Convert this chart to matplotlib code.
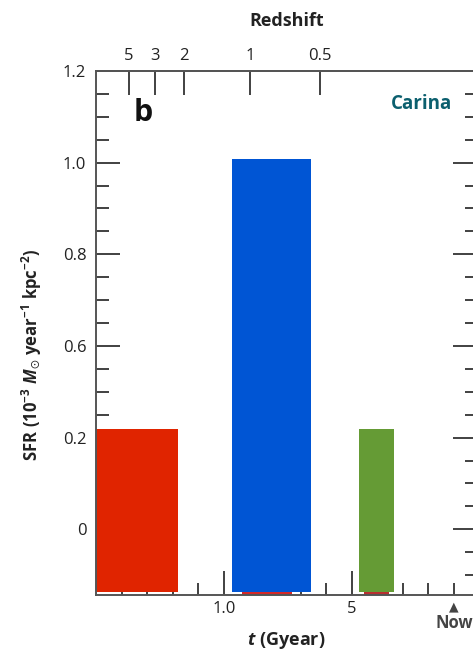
import numpy as np
import matplotlib
matplotlib.use("Agg")
import matplotlib.pyplot as plt

plt.rcParams["font.family"] = ["Open Sans", "DejaVu Sans"]
plt.rcParams["mathtext.fontset"] = "custom"
plt.rcParams["mathtext.rm"] = "Open Sans"
plt.rcParams["mathtext.bf"] = "Open Sans:bold"
plt.rcParams["mathtext.it"] = "Open Sans:italic"
plt.rcParams["mathtext.bfit"] = "Open Sans:bold:italic"
plt.rcParams["mathtext.fallback"] = "stixsans"

# --- star-formation episodes (cosmic time in Gyr, SFR in 1e-3 Msun/yr/kpc^2) ---
episode_start = [0.0, 5.3, 10.3]
episode_end = [3.2, 8.4, 11.65]
episode_sfr = [0.239, 1.009, 0.239]
episode_colors = ["#E02400", "#0055D4", "#659B35"]

# faint traces of the old population under the later episodes
trace_start = [5.7, 10.47]
trace_end = [7.65, 11.45]
trace_colors = ["#D42828", "#B83030"]

sfr_floor = -0.1435
bar_base = -0.138

# y tick labels as printed on the axis
ytick_values = [0.0, 0.2, 0.6, 0.8, 1.0, 1.2]
ytick_labels = ["0", "0.2", "0.6", "0.8", "1.0", "1.2"]

# time axis
t_max = 14.9
t_minor = [1, 2, 3, 4, 6, 7, 8, 9, 11, 12, 13, 14]
t_major = [5, 10]
t_major_labels = ["1.0", "5"]
t_now = 14.0

# redshift axis: cosmic age (Gyr) for each redshift
redshift_labels = ["5", "3", "2", "1", "0.5"]
redshift_age = [1.29, 2.31, 3.45, 6.04, 8.75]


# piecewise SFR scale: each printed tick interval gets equal height
def sfr_fwd(y):
    y = np.asarray(y, dtype=float)
    return np.where(y < 0.2, y / 0.2,
                    np.where(y < 0.6, 1 + (y - 0.2) / 0.4, 2 + (y - 0.6) / 0.2))


def sfr_inv(u):
    u = np.asarray(u, dtype=float)
    return np.where(u < 1, 0.2 * u,
                    np.where(u < 2, 0.2 + 0.4 * (u - 1), 0.6 + 0.2 * (u - 2)))


fig = plt.figure(figsize=(4.73, 6.53), dpi=100)
ax = fig.add_axes([96 / 473, 58 / 653, (477 - 96) / 473, (595 - 71) / 653])
ax.set_yscale("function", functions=(sfr_fwd, sfr_inv))
ax.set_ylim(sfr_floor, 1.2)
ax.set_xlim(0, t_max)
ax.set_axisbelow(True)

spine_col = "#555555"
for s in ax.spines.values():
    s.set_color(spine_col)
    s.set_linewidth(1.4)
    s.set_zorder(2.6)

# bars
for x0, x1, c in zip(trace_start, trace_end, trace_colors):
    ax.bar(x0, bar_base - sfr_floor + 0.002, width=x1 - x0, bottom=sfr_floor,
           align="edge", color=c, linewidth=0, zorder=1)
for x0, x1, v, c in zip(episode_start, episode_end, episode_sfr, episode_colors):
    ax.bar(x0, v - bar_base, width=x1 - x0, bottom=bar_base, align="edge",
           color=c, linewidth=0, zorder=2)

# y ticks
ax.set_yticks(ytick_values)
ax.set_yticklabels(ytick_labels)
minor_u = [u for u in np.arange(-0.5, 5.0, 0.25) if abs(u - round(u)) > 1e-6]
ax.yaxis.set_minor_locator(matplotlib.ticker.FixedLocator(sfr_inv(minor_u)))
ax.yaxis.set_minor_formatter(matplotlib.ticker.NullFormatter())

# x ticks
ax.set_xticks(t_major)
ax.set_xticklabels(t_major_labels)
ax.xaxis.set_minor_locator(matplotlib.ticker.FixedLocator(t_minor))

tick_col = "#333333"
ax.tick_params(axis="both", which="major", direction="in", length=17, width=1.3,
               color=tick_col, labelsize=12, labelcolor="#222222")
ax.tick_params(axis="both", which="minor", direction="in", length=9, width=1.3,
               color=tick_col)
ax.tick_params(axis="y", which="both", left=True, right=True, labelright=False)
ax.tick_params(axis="x", which="both", top=False, bottom=True)
ax.tick_params(axis="x", which="major", pad=4)
ax.tick_params(axis="y", which="major", pad=7)

# redshift scale on top
sec = ax.secondary_xaxis("top")
sec.set_xticks(redshift_age)
sec.set_xticklabels(redshift_labels)
sec.xaxis.set_minor_locator(matplotlib.ticker.NullLocator())
sec.tick_params(direction="in", length=17, width=1.3, color=tick_col,
                labelsize=12, labelcolor="#222222", pad=5)
sec.spines["top"].set_color(spine_col)
sec.spines["top"].set_linewidth(1.4)
sec.set_xlabel("Redshift", fontsize=13, fontweight="bold", color="#222222",
               labelpad=16)

# axis labels
ax.set_xlabel(r"$\mathbfit{t}$ (Gyear)", fontsize=13, fontweight="bold",
              color="#222222", labelpad=10)
ax.set_ylabel(r"$\mathbf{SFR\ (10^{-3}}\ \mathbfit{M}_{\odot}\ \mathbf{year^{-1}\ kpc^{-2})}$",
              fontsize=12, color="#222222")
ax.yaxis.set_label_coords(-0.14, 0.458)

# "Now" marker
ax.annotate("\u25B2", xy=(t_now, sfr_floor), xytext=(0, -8.5),
            textcoords="offset points", ha="center", va="center",
            fontsize=9, color="#444444", annotation_clip=False,
            family=["DejaVu Sans"])
ax.annotate("Now", xy=(t_now, sfr_floor), xytext=(0, -20),
            textcoords="offset points", ha="center", va="center",
            fontsize=12, fontweight="bold", color="#444444",
            annotation_clip=False)

# panel letter and galaxy name
ax.text(0.098, 0.92, "b", transform=ax.transAxes, fontsize=22,
        fontweight="bold", color="#111111", ha="left", va="center")
ax.text(0.935, 0.937, "Carina", transform=ax.transAxes, fontsize=13.5,
        fontweight="bold", color="#0B5F6E", ha="right", va="center")

fig.savefig("out.png", dpi=100)
